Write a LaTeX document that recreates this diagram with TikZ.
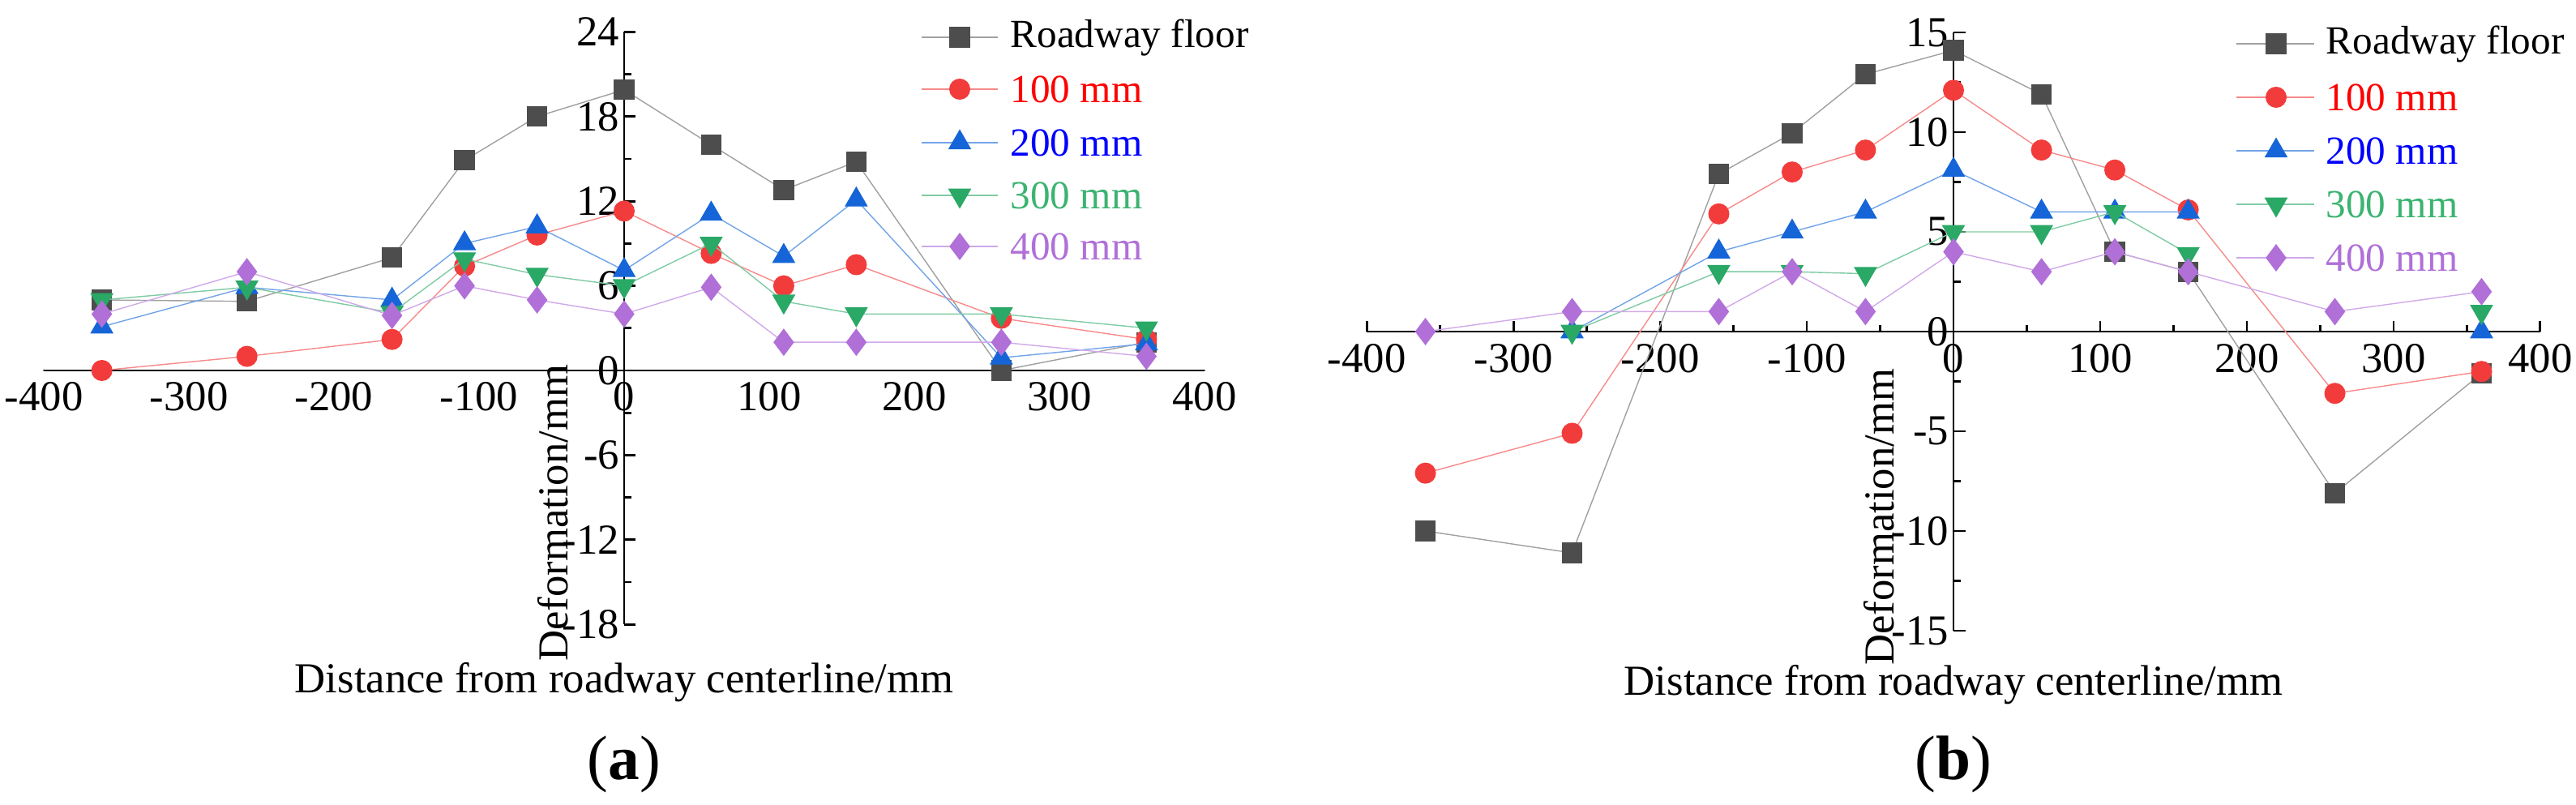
\documentclass[tikz,border=0pt]{standalone}
\usepackage{fontspec}
\setmainfont{Liberation Serif}
\usetikzlibrary{plotmarks}

\definecolor{floorgray}{HTML}{4D4D4D}
\definecolor{linegray}{HTML}{A0A0A0}
\definecolor{mred}{HTML}{F23C3C}
\definecolor{mblue}{HTML}{1565D8}
\definecolor{mgreen}{HTML}{2AA866}
\definecolor{mpurple}{HTML}{B070D8}
\definecolor{tgreen}{HTML}{3CB371}

\tikzset{
  axis/.style={line width=0.8pt,black},
  ticklab/.style={font=\fontsize{15}{17}\selectfont,inner sep=1pt},
  leglab/.style={font=\fontsize{14}{16}\selectfont,anchor=west,inner sep=0pt},
  sfloor/.style={linegray,line width=0.4pt,mark=square*,mark size=3.4pt,mark options={floorgray,draw=floorgray}},
  sone/.style={mred!60,line width=0.4pt,mark=*,mark size=3.5pt,mark options={mred,draw=mred}},
  stwo/.style={mblue!60,line width=0.4pt,mark=triangle*,mark size=4.3pt,mark options={mblue,draw=mblue}},
  sthree/.style={mgreen!60,line width=0.4pt,mark=triangle*,mark size=4.3pt,mark options={mgreen,draw=mgreen,rotate=180}},
  sfour/.style={mpurple!60,line width=0.4pt,mark=diamond*,mark size=4.5pt,mark options={mpurple,draw=mpurple}},
}

\begin{document}
\begin{tikzpicture}
\useasboundingbox (0,0) rectangle (31.78,9.93);

% panel (a)
\begin{scope}[shift={(7.70,5.36)},x=0.0179cm,y=0.174cm]
  \coordinate (axl) at (-400,0); \coordinate (axr) at (400,0);
  \coordinate (ayb) at (0,-18); \coordinate (ayt) at (0,24);
  \draw[axis] (axl) -- (axr);
  \draw[axis] (ayb) -- (ayt);
  \foreach \x in {-400,-300,...,400} {
    \draw[axis] (\x,0) -- ++(0,0.075);
    \node[ticklab,anchor=north] (xa\x) at (\x,-0.6) {\x};
  }
  \foreach \x in {-350,-250,...,350} \draw[axis] (\x,0) -- ++(0,0.045);
  \foreach \y in {-18,-12,...,24} {
    \draw[axis] (0,\y) -- ++(8,0);
    \node[ticklab,anchor=east] (ya\y) at (-1,\y) {\y};
  }
  \foreach \y in {-15,-9,...,21} \draw[axis] (0,\y) -- ++(5,0);

  \draw[sfloor] plot coordinates {(-360,5) (-260,4.9) (-160,8) (-110,14.9) (-60,18) (0,19.9) (60,16) (110,12.8) (160,14.8) (260,0) (360,2)};
  \draw[sone] plot coordinates {(-360,0) (-260,1) (-160,2.2) (-110,7.4) (-60,9.6) (0,11.3) (60,8.3) (110,6) (160,7.5) (260,3.7) (360,2.2)};
  \draw[stwo] plot coordinates {(-360,3.1) (-260,5.9) (-160,5) (-110,9) (-60,10.2) (0,7.1) (60,11.1) (110,8.1) (160,12.1) (260,0.9) (360,1.9)};
  \draw[sthree] plot coordinates {(-360,5) (-260,5.9) (-160,4.1) (-110,7.9) (-60,6.8) (0,6) (60,9) (110,4.9) (160,4) (260,4) (360,3)};
  \draw[sfour] plot coordinates {(-360,4) (-260,7) (-160,3.9) (-110,6) (-60,5) (0,4) (60,5.9) (110,2) (160,2) (260,2) (360,1)};

  \node[ticklab,rotate=90] (yla) at (-49,-10.1) {Deformation/mm};
  \node[ticklab] (xla) at (0,-22.1) {Distance from roadway centerline/mm};
  \node[font=\fontsize{22}{24}\selectfont] (capa) at (0,-27.9) {(\textbf{a})};
\end{scope}

% legend (a)
\foreach \st/\lab/\col/\yy [count=\i] in {sfloor/Roadway floor/black/9.47,sone/100 mm/red/8.83,stwo/200 mm/blue/8.17,sthree/300 mm/tgreen/7.52,sfour/400 mm/mpurple/6.89} {
  \coordinate (lal\i) at (11.37,\yy); \coordinate (lar\i) at (12.31,\yy);
  \draw[\st] (lal\i) -- (lar\i);
  \path[\st] plot coordinates {(11.84,\yy)};
  \node[leglab,text=\col] (lta\i) at (12.46,\yy) {\lab};
}

% panel (b)
\begin{scope}[shift={(24.10,5.84)},x=0.0181cm,y=0.246cm]
  \coordinate (bxl) at (-400,0); \coordinate (bxr) at (400,0);
  \coordinate (byb) at (0,-15); \coordinate (byt) at (0,15);
  \draw[axis] (bxl) -- (bxr);
  \draw[axis] (byb) -- (byt);
  \foreach \x in {-400,-300,...,400} {
    \draw[axis] (\x,0) -- ++(0,0.53);
    \node[ticklab,anchor=north] (xb\x) at (\x,-0.45) {\x};
  }
  \foreach \x in {-350,-250,...,350} \draw[axis] (\x,0) -- ++(0,0.32);
  \foreach \y in {-15,-10,...,15} {
    \draw[axis] (0,\y) -- ++(8,0);
    \node[ticklab,anchor=east] (yb\y) at (-1,\y) {\y};
  }
  \foreach \y in {-12.5,-7.5,...,12.5} \draw[axis] (0,\y) -- ++(5,0);

  \draw[sfloor] plot coordinates {(-360,-10) (-260,-11.1) (-160,7.9) (-110,9.95) (-60,12.9) (0,14.1) (60,11.9) (110,4) (160,3) (260,-8.1) (360,-2.1)};
  \draw[sone] plot coordinates {(-360,-7.1) (-260,-5.1) (-160,5.9) (-110,8) (-60,9.1) (0,12.1) (60,9.1) (110,8.1) (160,6.1) (260,-3.1) (360,-2)};
  \draw[stwo] plot coordinates {(-260,0) (-160,4) (-110,5) (-60,6) (0,8.1) (60,6) (110,6) (160,6)};
  \path[stwo] plot coordinates {(360,0)};
  \draw[sthree] plot coordinates {(-260,0) (-160,3) (-110,3) (-60,2.9) (0,5) (60,5) (110,6) (160,3.9)};
  \path[sthree] plot coordinates {(360,1)};
  \draw[sfour] plot coordinates {(-360,0) (-260,1) (-160,1) (-110,3) (-60,1) (0,4) (60,3) (110,4) (160,3) (260,1) (360,2)};

  \node[ticklab,rotate=90] (ylb) at (-51,-9.3) {Deformation/mm};
  \node[ticklab] (xlb) at (0,-17.7) {Distance from roadway centerline/mm};
  \node[font=\fontsize{22}{24}\selectfont] (capb) at (0,-21.7) {(\textbf{b})};
\end{scope}

% legend (b)
\foreach \st/\lab/\col/\yy [count=\i] in {sfloor/Roadway floor/black/9.39,sone/100 mm/red/8.73,stwo/200 mm/blue/8.07,sthree/300 mm/tgreen/7.41,sfour/400 mm/mpurple/6.75} {
  \coordinate (lbl\i) at (27.59,\yy); \coordinate (lbr\i) at (28.55,\yy);
  \draw[\st] (lbl\i) -- (lbr\i);
  \path[\st] plot coordinates {(28.08,\yy)};
  \node[leglab,text=\col] (ltb\i) at (28.69,\yy) {\lab};
}
\end{tikzpicture}
\end{document}
